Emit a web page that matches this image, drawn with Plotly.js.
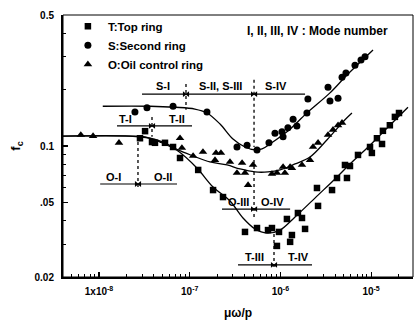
<!DOCTYPE html>
<html><head><meta charset="utf-8">
<script src="https://cdn.plot.ly/plotly-3.0.1.min.js"></script>
<style>html,body{margin:0;padding:0;background:#fff}#chart{width:416px;height:322px}</style>
</head><body><div id="chart"></div>
<script>
// ---- measured data ----
const topX = [2.83e-8,3.22e-8,3.84e-8,4.14e-8,5.34e-8,6.55e-8,7.82e-8,1.24e-7,1.81e-7,2.33e-7,4.07e-7,5.52e-7,7.30e-7,8.07e-7,9.65e-7,9.16e-7,1.18e-6,1.28e-6,1.34e-6,1.56e-6,1.73e-6,1.87e-6,2.53e-6,2.60e-6,3.71e-6,4.21e-6,5.42e-6,5.15e-6,5.85e-6,7.17e-6,9.73e-6,1.02e-5,1.16e-5,1.32e-5,1.35e-5,1.61e-5,1.83e-5,2.03e-5];
const topY = [0.110,0.120,0.105,0.104,0.104,0.0988,0.0863,0.0745,0.0582,0.0534,0.0348,0.0365,0.0356,0.0365,0.0348,0.0293,0.0408,0.0308,0.0335,0.0439,0.0413,0.0361,0.0597,0.0479,0.0582,0.0675,0.0675,0.0792,0.0782,0.0896,0.0988,0.0918,0.110,0.1025,0.1205,0.129,0.143,0.150];

const secX = [2.49e-8,3.38e-8,6.55e-8,1.55e-7,3.32e-7,4.29e-7,5.52e-7,7.48e-7,8.71e-7,1.04e-6,1.07e-6,1.21e-6,1.38e-6,1.52e-6,1.96e-6,2.01e-6,3.35e-6,3.52e-6,4.32e-6,4.78e-6,5.28e-6,6.64e-6,7.74e-6,8.57e-6];
const secY = [0.152,0.160,0.163,0.152,0.0988,0.101,0.0953,0.104,0.117,0.119,0.112,0.125,0.139,0.128,0.150,0.178,0.206,0.174,0.180,0.233,0.245,0.270,0.288,0.299];

const oilX = [6.3e-9,8.6e-9,1.66e-8,7.82e-8,8.2e-8,1.09e-7,1.40e-7,1.90e-7,1.95e-7,2.21e-7,2.78e-7,3.78e-7,3.32e-7,4.07e-7,4.40e-7,4.99e-7,8.07e-7,9.16e-7,1.07e-6,1.12e-6,1.28e-6,1.34e-6,1.73e-6,2.12e-6,2.29e-6,2.60e-6,3.35e-6,3.80e-6,4.32e-6,4.78e-6];
const oilY = [0.1145,0.113,0.104,0.110,0.0976,0.0885,0.0929,0.0842,0.0918,0.0918,0.0822,0.0812,0.0718,0.0718,0.0619,0.0792,0.0709,0.0718,0.0773,0.0718,0.0773,0.0763,0.0792,0.0842,0.0988,0.104,0.1145,0.122,0.129,0.133];

// fitted curves
const secFitX = [1.10e-8,3.65e-8,6.89e-8,1.14e-7,1.55e-7,2.16e-7,3.00e-7,4.07e-7,5.25e-7,6.27e-7,7.67e-7,1.18e-6,1.96e-6,3.52e-6,5.42e-6,1.05e-5];
const secFitY = [0.163,0.163,0.161,0.1575,0.150,0.131,0.109,0.0988,0.0953,0.0964,0.1025,0.119,0.150,0.192,0.239,0.325];
const topFitX = [4.0e-9,2.2e-8,3.22e-8,4.71e-8,7.43e-8,1.20e-7,1.81e-7,2.78e-7,3.87e-7,5.25e-7,7.11e-7,9.9e-7,1.45e-6,2.60e-6,4.00e-6,5.85e-6,9.73e-6,1.61e-5,2.55e-5];
const topFitY = [0.113,0.113,0.112,0.105,0.0940,0.0763,0.0604,0.0509,0.0413,0.0361,0.0343,0.0356,0.0418,0.0547,0.0667,0.0802,0.101,0.129,0.161];
const oilFitX = [4.0e-9,2.2e-8,3.65e-8,5.08e-8,7.43e-8,1.09e-7,1.67e-7,2.58e-7,3.59e-7,5.25e-7,7.30e-7,9.9e-7,1.45e-6,2.12e-6,3.27e-6,5.15e-6,6.15e-6];
const oilFitY = [0.113,0.113,0.110,0.105,0.0953,0.0885,0.0822,0.0792,0.0754,0.0727,0.0727,0.0745,0.0802,0.0874,0.108,0.138,0.150];

// mode ranges: level, [start, divider(s)..., end]
const sModeY = 0.189, sModeX = [2.98e-8, 9.1e-8, 5.12e-7, 1.87e-6];
const tLoModeY = 0.128, tLoModeX = [1.58e-8, 3.84e-8, 1.06e-7];
const oLoModeY = 0.0627, oLoModeX = [1.03e-8, 2.69e-8, 7.25e-8];
const oHiModeY = 0.0461, oHiModeX = [2.27e-7, 5.12e-7, 1.28e-6];
const tHiModeY = 0.0232, tHiModeX = [3.41e-7, 8.5e-7, 2.23e-6];
// divider lines: x, y from, y to
const dividerX = [9.1e-8, 5.12e-7, 3.84e-8, 2.69e-8, 5.12e-7, 8.5e-7];
const dividerY0 = [0.214, 0.226, 0.143, 0.105, 0.0842, 0.0365];
const dividerY1 = [0.156, 0.0988, 0.112, 0.0582, 0.0418, 0.0225];

const xTickVals = [1e-8, 1e-7, 1e-6, 1e-5];
const xTickText = ['1x10<sup>-8</sup>', '10<sup>-7</sup>', '10<sup>-6</sup>', '10<sup>-5</sup>'];
const yTickVals = [0.02, 0.05, 0.1, 0.5];
const yTickText = ['0.02', '.05', '0.1', '0.5'];

// ---- build ----
const FONT = 'Liberation Sans, Arial, sans-serif';
const traces = [];
const line = {color: '#000', width: 1.2};
function addLine(x, y, extra) {
  traces.push(Object.assign({x, y, mode: 'lines', line, showlegend: false, hoverinfo: 'skip'}, extra || {}));
}
addLine(secFitX, secFitY, {line: {color: '#000', width: 1.3, shape: 'spline'}});
addLine(topFitX, topFitY, {line: {color: '#000', width: 1.3, shape: 'spline'}});
addLine(oilFitX, oilFitY, {line: {color: '#000', width: 1.3, shape: 'spline'}});

const arrowX = [], arrowY = [], arrowSym = [];
[[sModeY, sModeX], [tLoModeY, tLoModeX], [oLoModeY, oLoModeX], [oHiModeY, oHiModeX], [tHiModeY, tHiModeX]].forEach(([y, xs]) => {
  addLine([xs[0], xs[xs.length - 1]], [y, y]);
  for (let i = 1; i < xs.length - 1; i++) {
    arrowX.push(xs[i] * 0.955, xs[i] / 0.955); arrowY.push(y, y);
    arrowSym.push('triangle-right', 'triangle-left');
  }
});
traces.push({x: arrowX, y: arrowY, mode: 'markers', showlegend: false, hoverinfo: 'skip',
  marker: {symbol: arrowSym, size: 5, color: '#000'}});
dividerX.forEach((x, i) => addLine([x, x], [dividerY0[i], dividerY1[i]], {line: {color: '#000', width: 1.3, dash: 'dot'}}));

traces.push({x: topX, y: topY, mode: 'markers', name: 'T:Top ring', marker: {symbol: 'square', size: 6.5, color: '#000'}});
traces.push({x: secX, y: secY, mode: 'markers', name: 'S:Second ring', marker: {symbol: 'circle', size: 7, color: '#000'}});
traces.push({x: oilX, y: oilY, mode: 'markers', name: 'O:Oil control ring', marker: {symbol: 'triangle-up', size: 7.5, color: '#000'}});

const L = Math.log10;
const lab = (text, x, y) => ({text, x: L(x), y: L(y), xref: 'x', yref: 'y', showarrow: false,
  font: {family: FONT, size: 11, color: '#000', weight: 'bold'}});
const annotations = [
  lab('S-I', 5.08e-8, 0.209), lab('S-II, S-III', 2.21e-7, 0.209), lab('S-IV', 8.9e-7, 0.209),
  lab('T-I', 1.94e-8, 0.139), lab('T-II', 7.25e-8, 0.139),
  lab('O-I', 1.46e-8, 0.0684), lab('O-II', 5.08e-8, 0.0684),
  lab('O-III', 3.41e-7, 0.0503), lab('O-IV', 8.28e-7, 0.0503),
  lab('T-III', 5.12e-7, 0.0256), lab('T-IV', 1.60e-6, 0.0256),
  {text: 'I, II, III, IV : Mode number', xref: 'paper', yref: 'paper', x: 0.935, y: 0.94,
   xanchor: 'right', yanchor: 'middle', showarrow: false, font: {family: FONT, size: 12, color: '#000', weight: 'bold'}}
];

const axisCommon = {type: 'log', showgrid: false, zeroline: false, showline: true, linecolor: '#000', linewidth: 2,
  ticks: 'inside', ticklen: 5, tickwidth: 1.2, tickcolor: '#000', tickmode: 'array',
  tickfont: {family: FONT, size: 10, color: '#000', weight: 'bold'}};

const layout = {
  width: 416, height: 322, margin: {l: 63, r: 3, t: 15, b: 45},
  paper_bgcolor: '#fff', plot_bgcolor: '#fff',
  font: {family: FONT, color: '#000'},
  xaxis: Object.assign({}, axisCommon, {range: [-8.397, -4.538], tickvals: xTickVals, ticktext: xTickText,
    ticklabelstandoff: 4,
    minor: {ticks: 'inside', ticklen: 3, tickwidth: 1, tickcolor: '#000', dtick: 'D1', showgrid: false},
    title: {text: 'μω/p', font: {family: FONT, size: 12, color: '#000', weight: 'bold'}, standoff: 13}}),
  yaxis: Object.assign({}, axisCommon, {range: [L(0.02), L(0.5)], tickvals: yTickVals, ticktext: yTickText,
    ticklabelstandoff: 5,
    minor: {ticks: 'inside', ticklen: 3, tickwidth: 1, tickcolor: '#000',
      tickvals: [0.03, 0.04, 0.06, 0.07, 0.08, 0.09, 0.2, 0.3, 0.4], showgrid: false},
    title: {text: 'f<sub>c</sub>', font: {family: FONT, size: 13, color: '#000', weight: 'bold'}, standoff: 11}}),
  legend: {x: 0.014, y: 1.012, xanchor: 'left', yanchor: 'top', bgcolor: 'rgba(0,0,0,0)', tracegroupgap: 0,
    font: {family: FONT, size: 11.5, color: '#000', weight: 'bold'}},
  shapes: [{type: 'rect', xref: 'paper', yref: 'paper', x0: 0, x1: 1, y0: 0, y1: 1, line: {color: '#000', width: 1}}],
  annotations
};
Plotly.newPlot('chart', traces, layout, {staticPlot: true, displayModeBar: false});
</script></body></html>
